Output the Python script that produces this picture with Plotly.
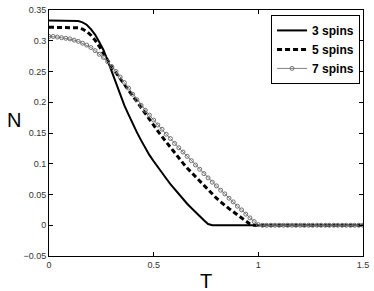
import plotly.graph_objects as go

T = [0.00, 0.02, 0.04, 0.06, 0.08, 0.10, 0.12, 0.14, 0.16, 0.18,
     0.20, 0.22, 0.24, 0.26, 0.28, 0.30, 0.32, 0.34, 0.36, 0.38,
     0.40, 0.42, 0.44, 0.46, 0.48, 0.50, 0.52, 0.54, 0.56, 0.58,
     0.60, 0.62, 0.64, 0.66, 0.68, 0.70, 0.72, 0.74, 0.76, 0.78,
     0.80, 0.82, 0.84, 0.86, 0.88, 0.90, 0.92, 0.94, 0.96, 0.98,
     1.00, 1.02, 1.04, 1.06, 1.08, 1.10, 1.12, 1.14, 1.16, 1.18,
     1.20, 1.22, 1.24, 1.26, 1.28, 1.30, 1.32, 1.34, 1.36, 1.38,
     1.40, 1.42, 1.44, 1.46, 1.48, 1.50]

N3 = [0.333, 0.333, 0.333, 0.333, 0.333, 0.333, 0.333, 0.332, 0.330, 0.326,
      0.319, 0.310, 0.298, 0.285, 0.268, 0.249, 0.230, 0.212, 0.195, 0.180,
      0.165, 0.151, 0.138, 0.125, 0.114, 0.104, 0.094, 0.085, 0.076, 0.067,
      0.059, 0.050, 0.043, 0.035, 0.028, 0.021, 0.014, 0.008, 0.002, 0.000,
      0.000, 0.000, 0.000, 0.000, 0.000, 0.000, 0.000, 0.000, 0.000, 0.000,
      0.000, 0.000, 0.000, 0.000, 0.000, 0.000, 0.000, 0.000, 0.000, 0.000,
      0.000, 0.000, 0.000, 0.000, 0.000, 0.000, 0.000, 0.000, 0.000, 0.000,
      0.000, 0.000, 0.000, 0.000, 0.000, 0.000]

N5 = [0.322, 0.322, 0.322, 0.322, 0.322, 0.322, 0.322, 0.321, 0.319, 0.315,
      0.309, 0.301, 0.291, 0.279, 0.267, 0.257, 0.248, 0.238, 0.229, 0.219,
      0.210, 0.201, 0.191, 0.181, 0.172, 0.162, 0.153, 0.144, 0.135, 0.126,
      0.117, 0.109, 0.101, 0.093, 0.086, 0.078, 0.071, 0.064, 0.057, 0.051,
      0.044, 0.038, 0.032, 0.027, 0.022, 0.017, 0.012, 0.007, 0.002, 0.000,
      0.000, 0.000, 0.000, 0.000, 0.000, 0.000, 0.000, 0.000, 0.000, 0.000,
      0.000, 0.000, 0.000, 0.000, 0.000, 0.000, 0.000, 0.000, 0.000, 0.000,
      0.000, 0.000, 0.000, 0.000, 0.000, 0.000]

N7 = [0.307, 0.307, 0.306, 0.305, 0.304, 0.303, 0.301, 0.299, 0.296, 0.293,
      0.289, 0.284, 0.278, 0.273, 0.266, 0.258, 0.250, 0.241, 0.232, 0.223,
      0.213, 0.204, 0.195, 0.187, 0.179, 0.171, 0.163, 0.156, 0.148, 0.141,
      0.133, 0.126, 0.119, 0.112, 0.105, 0.098, 0.091, 0.084, 0.077, 0.070,
      0.064, 0.057, 0.051, 0.044, 0.038, 0.031, 0.025, 0.018, 0.012, 0.006,
      0.001, 0.000, 0.000, 0.000, 0.000, 0.000, 0.000, 0.000, 0.000, 0.000,
      0.000, 0.000, 0.000, 0.000, 0.000, 0.000, 0.000, 0.000, 0.000, 0.000,
      0.000, 0.000, 0.000, 0.000, 0.000, 0.000]

names = ["3 spins", "5 spins", "7 spins"]
xticks = [0, 0.5, 1, 1.5]
xticklabels = ["0", "0.5", "1", "1.5"]
yticks = [-0.05, 0, 0.05, 0.1, 0.15, 0.2, 0.25, 0.3, 0.35]
yticklabels = ["\u22120.05", "0", "0.05", "0.1", "0.15", "0.2", "0.25", "0.3", "0.35"]

fig = go.Figure()
fig.add_trace(go.Scatter(x=T, y=N3, name=names[0], mode="lines",
                         line=dict(color="black", width=2)))
fig.add_trace(go.Scatter(x=T, y=N5, name=names[1], mode="lines",
                         line=dict(color="black", width=3, dash="5px,3px")))
fig.add_trace(go.Scatter(x=T, y=N7, name=names[2], mode="lines+markers",
                         line=dict(color="#808080", width=1),
                         marker=dict(symbol="circle-open", size=4,
                                     color="#707070", line=dict(width=1))))

axis_common = dict(showline=True, linecolor="black", linewidth=1, mirror="ticks",
                   ticks="inside", ticklen=4, tickcolor="black",
                   showgrid=False, zeroline=False,
                   tickfont=dict(family="Liberation Sans, Arial", size=9, color="#333333"))

fig.update_xaxes(range=[0, 1.5], tickvals=xticks, ticktext=xticklabels, **axis_common)
fig.update_yaxes(range=[-0.05, 0.35], tickvals=yticks, ticktext=yticklabels, **axis_common)

fig.add_annotation(text="N", xref="paper", yref="paper", x=-0.110, y=0.552,
                   xanchor="center", yanchor="middle",
                   showarrow=False, font=dict(family="Liberation Sans, Arial", size=20, color="black"))
fig.add_annotation(text="T", xref="paper", yref="paper", x=0.5, y=-0.0996,
                   xanchor="center", yanchor="middle",
                   showarrow=False, font=dict(family="Liberation Sans, Arial", size=20, color="black"))

fig.update_layout(
    width=374, height=291,
    margin=dict(l=49, r=7, t=5, b=35),
    paper_bgcolor="white", plot_bgcolor="white",
    showlegend=True,
    legend=dict(x=0.9906, y=0.980, xanchor="right", yanchor="top",
                bordercolor="black", borderwidth=1, bgcolor="white",
                font=dict(family="Liberation Sans, Arial", size=12, color="black", weight="bold"),
                itemwidth=30, tracegroupgap=0),
)

fig.write_html("out.html", config={"displayModeBar": False},
               post_script="document.body.style.margin='0';")
